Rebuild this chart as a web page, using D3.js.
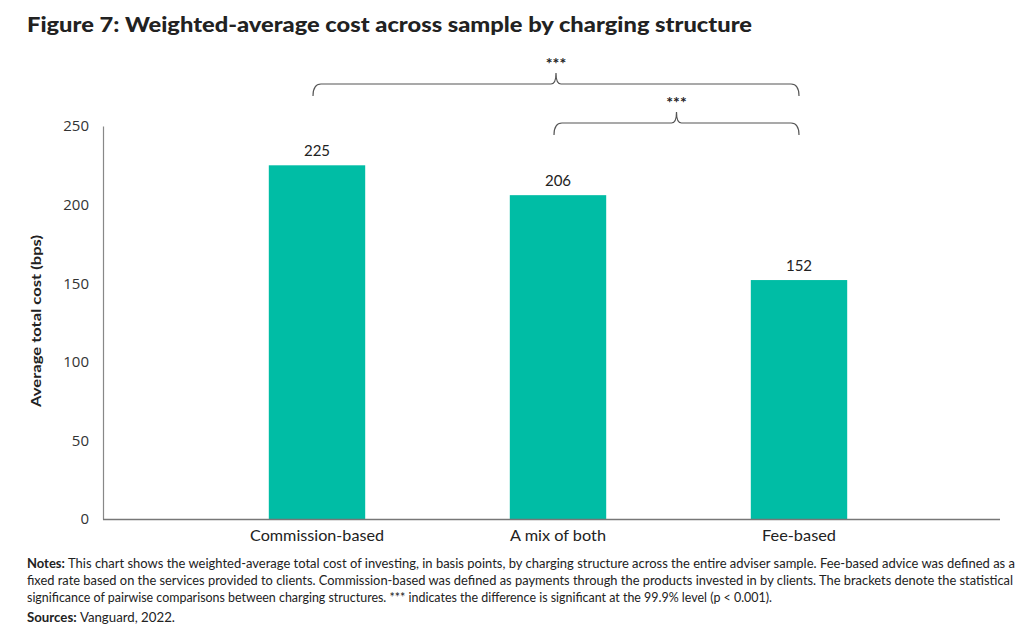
<!DOCTYPE html>
<head>
	<meta charset="utf-8">
	<title>Figure 7</title>
	<script src="https://d3js.org/d3.v7.min.js"></script>
	<style>
		body { margin: 0; background: #fff; }
		text { font-family: Lato, "Noto Sans", sans-serif; fill: #222; }
		.title { font-weight: 900; font-size: 21px; }
		.tick text { font-family: "Open Sans", "Noto Sans", sans-serif; font-size: 15px; fill: #333; }
		.note { font-size: 12.5px; }
	</style>
</head>
<body>
<div id="viz"></div>
<script>
// data
var categories = ["Commission-based", "A mix of both", "Fee-based"];
var costs = [225, 206, 152];
var yTicks = [0, 50, 100, 150, 200, 250];
// significance brackets: [from category, to category, label]
var brackets = [
	["Commission-based", "Fee-based", "***"],
	["A mix of both", "Fee-based", "***"]
];
var notes = [
	"This chart shows the weighted-average total cost of investing, in basis points, by charging structure across the entire adviser sample. Fee-based advice was defined as a",
	"fixed rate based on the services provided to clients. Commission-based was defined as payments through the products invested in by clients. The brackets denote the statistical",
	"significance of pairwise comparisons between charging structures. *** indicates the difference is significant at the 99.9% level (p  < 0.001)."
];

var width = 1024, height = 628;
var svg = d3.select("#viz").append("svg")
	.attr("width", width)
	.attr("height", height);

svg.append("text").attr("class", "title")
	.attr("x", 27).attr("y", 32)
	.attr("textLength", 725).attr("lengthAdjust", "spacingAndGlyphs")
	.text("Figure 7: Weighted-average cost across sample by charging structure");

var axisLeft = 103, axisRight = 1000;

var y = d3.scaleLinear().domain([0, 250]).range([519, 126]);
var x = d3.scaleBand().domain(categories)
	.range([196.5, 919.5])
	.paddingInner(0.6).paddingOuter(0.3);

// y axis
var yAxis = svg.append("g")
	.attr("transform", "translate(" + axisLeft + ",0)")
	.call(d3.axisLeft(y).tickValues(yTicks).tickSize(0).tickPadding(14));
yAxis.select(".domain").attr("stroke", "#888").attr("stroke-width", 1.2);

svg.append("text")
	.attr("transform", "translate(41,321) rotate(-90)")
	.attr("text-anchor", "middle")
	.attr("textLength", 172).attr("lengthAdjust", "spacingAndGlyphs")
	.style("font-weight", 700).style("font-size", "14px")
	.text("Average total cost (bps)");

// bars
svg.selectAll("rect.bar").data(categories).enter()
	.append("rect").attr("class", "bar")
	.attr("x", function(d) { return x(d); })
	.attr("y", function(d, i) { return y(costs[i]); })
	.attr("width", x.bandwidth())
	.attr("height", function(d, i) { return y(0) - y(costs[i]); })
	.attr("fill", "#00bda5");

svg.selectAll("text.val").data(categories).enter()
	.append("text").attr("class", "val")
	.attr("x", function(d) { return x(d) + x.bandwidth() / 2; })
	.attr("y", function(d, i) { return y(costs[i]) - 9; })
	.attr("text-anchor", "middle")
	.style("font-size", "15px")
	.text(function(d, i) { return costs[i]; });

// x axis line + labels
svg.append("line")
	.attr("x1", axisLeft).attr("x2", axisRight)
	.attr("y1", y(0) + 0.5).attr("y2", y(0) + 0.5)
	.attr("stroke", "#777").attr("stroke-width", 1.3);

var catWidths = [134, 96, 74];
svg.selectAll("text.cat").data(categories).enter()
	.append("text").attr("class", "cat")
	.attr("x", function(d) { return x(d) + x.bandwidth() / 2; })
	.attr("y", 541)
	.attr("text-anchor", "middle")
	.attr("textLength", function(d, i) { return catWidths[i]; })
	.attr("lengthAdjust", "spacingAndGlyphs")
	.style("font-size", "15px")
	.text(function(d) { return d; });

// brackets
var bracketY = [84, 123];
brackets.forEach(function(b, i) {
	var x1 = x(b[0]) + x.bandwidth() / 2 - 4;
	var x2 = x(b[1]) + x.bandwidth() / 2;
	var xm = (x1 + x2) / 2;
	var yy = bracketY[i];
	var r = 4;
	var p = d3.path();
	p.moveTo(x1, yy + 12);
	p.quadraticCurveTo(x1, yy, x1 + r * 2, yy);
	p.lineTo(xm - 5, yy);
	p.quadraticCurveTo(xm, yy, xm, yy - 11);
	p.quadraticCurveTo(xm, yy, xm + 5, yy);
	p.lineTo(x2 - r * 2, yy);
	p.quadraticCurveTo(x2, yy, x2, yy + 12);
	svg.append("path").attr("d", p.toString())
		.attr("fill", "none").attr("stroke", "#555").attr("stroke-width", 1.2);
	svg.append("text")
		.attr("x", xm).attr("y", yy - 15)
		.attr("text-anchor", "middle")
		.style("font-size", "16px").style("font-weight", 700)
		.text(b[2]);
});

// notes
var noteY = [568, 585, 602];
var noteWidths = [988, 986, 745];
notes.forEach(function(line, i) {
	var t = svg.append("text").attr("class", "note")
		.attr("x", 27).attr("y", noteY[i]);
	if (i === 0) {
		t.append("tspan").style("font-weight", 700).text("Notes: ");
	}
	t.append("tspan").text(line);
	t.attr("textLength", noteWidths[i]).attr("lengthAdjust", "spacingAndGlyphs");
});

var src = svg.append("text").attr("class", "note").attr("x", 27).attr("y", 622)
	.style("font-size", "13px")
	.attr("textLength", 148).attr("lengthAdjust", "spacingAndGlyphs");
src.append("tspan").style("font-weight", 700).text("Sources: ");
src.append("tspan").text("Vanguard, 2022.");
</script>
</body>
</html>
